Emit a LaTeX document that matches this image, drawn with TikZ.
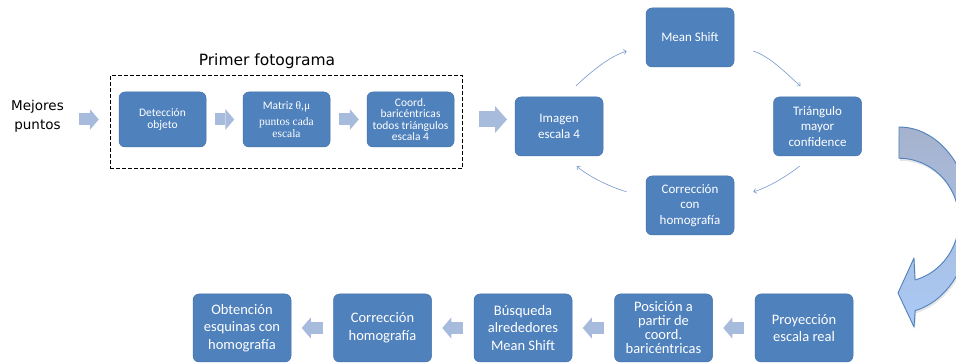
\documentclass[tikz,border=0pt]{standalone}
\usepackage{fontspec}
\setmainfont{Carlito}
\newfontfamily\verdanafont{DejaVu Sans}
\newfontfamily\cambriafont{Liberation Serif}
\usepackage{xcolor}
\usetikzlibrary{arrows.meta,positioning,fit,shadows}

\definecolor{boxblue}{RGB}{79,129,189}
\definecolor{boxline}{RGB}{68,114,170}
\definecolor{blkfill}{RGB}{167,187,220}
\definecolor{cycline}{RGB}{118,152,204}
\definecolor{turntop}{RGB}{166,178,205}
\definecolor{turnbot}{RGB}{170,202,246}

\tikzset{
  stage/.style={rectangle, rounded corners=6pt, fill=boxblue, draw=boxline, line width=0.5pt,
    text=white, align=center, inner sep=2pt},
  topstage/.style={stage, minimum width=87pt, minimum height=55pt, font=\fontsize{11.5}{11.3}\selectfont},
  ringstage/.style={stage, minimum width=88pt, minimum height=59pt, font=\fontsize{13}{15.5}\selectfont},
  lowstage/.style={stage, minimum width=98pt, minimum height=68pt, font=\fontsize{14.5}{17.5}\selectfont},
  blk/.style={draw=blkfill, line width=12pt, -{Triangle[length=9pt,width=21pt,line width=0pt]}},
  bigblk/.style={draw=blkfill, line width=16pt, -{Triangle[length=12pt,width=27pt,line width=0pt]}},
  cyc/.style={draw=cycline, line width=0.6pt, -{Straight Barb[length=2.5pt,width=5pt]}},
  turn/.style={draw=boxblue, line width=0.9pt, line join=round, top color=turntop, bottom color=turnbot,
    drop shadow={opacity=0.2, shadow xshift=1pt, shadow yshift=-2.5pt}},
}

\begin{document}
\begin{tikzpicture}[x=1pt, y=1pt]
\useasboundingbox[fill=white] (0,0) rectangle (956,363);

% primer fotograma
\node[font=\verdanafont\fontsize{13.5}{19}\selectfont, align=center, inner sep=0pt] (mej) at (37.5,246.5) {Mejores\\puntos};
\node[topstage] (det) at (162.5,243.5) {Detección\\objeto};
\node[topstage, right=36.5pt of det] (mat) {Matriz {\cambriafont θ,μ}\\[5pt]{\cambriafont puntos cada}\\{\cambriafont escala}};
\node[topstage, right=36.5pt of mat] (crd) {Coord.\\baricéntricas\\todos triángulos\\escala 4};
\node[draw, dashed, dash pattern=on 3.5pt off 2.5pt, line width=1.2pt, fit=(det)(mat)(crd),
  inner xsep=8.5pt, inner ysep=18.5pt, yshift=-2.5pt] (frame) {};
\node[font=\verdanafont\fontsize{15.5}{18}\selectfont] (title) at (267,302) {Primer fotograma};

\draw[blk, shorten <=15pt, shorten >=20pt] (mej.east |- det.west) -- (det.west);
\draw[blk, shorten <=9pt, shorten >=8.5pt] (det) -- (mat);
\draw[blk, shorten <=8.5pt, shorten >=8pt] (mat) -- (crd);
\draw[bigblk, shorten <=25pt, shorten >=8pt] (crd.east) -- (crd.east -| 515,0);

% ciclo de seguimiento
\node[ringstage] (img) at (559,236.5) {Imagen\\escala 4};
\node[ringstage] (ms) at (690,325.5) {Mean Shift};
\node[ringstage] (tri) at (817.5,236.5) {Triángulo\\mayor\\confidence};
\node[ringstage] (corr) at (690,157.5) {Corrección\\con\\homografía};

\draw[cyc, shorten <=16pt, shorten >=20pt] (img.80) to[out=43, in=197] (ms.190);
\draw[cyc, shorten <=20pt, shorten >=16pt] (ms.-10) to[out=-17, in=138] (tri.100);
\draw[cyc, shorten <=16pt, shorten >=20pt] (tri.-100) to[out=-142, in=17] (corr.10);
\draw[cyc, shorten <=20pt, shorten >=16pt] (corr.170) to[out=163, in=-39] (img.-80);

\draw[turn] (899,236) arc[start angle=90, end angle=-77, x radius=72, y radius=93]
  -- (914,36) -- (898,70) -- (914,105) -- (915,83)
  arc[start angle=-74.5, end angle=90, x radius=60, y radius=62] -- cycle;

% escala real
\node[lowstage] (proj) at (804,35) {Proyección\\escala real};
\node[lowstage, left=42pt of proj, font=\fontsize{14.5}{14}\selectfont] (pos) {Posición a\\partir de\\coord.\\baricéntricas};
\node[lowstage, left=42pt of pos] (busq) {Búsqueda\\alrededores\\Mean Shift};
\node[lowstage, left=42pt of busq] (corh) {Corrección\\homografía};
\node[lowstage, left=42pt of corh] (obt) {Obtención\\esquinas con\\homografía};

\draw[blk, shorten <=10.5pt, shorten >=10.5pt] (proj) -- (pos);
\draw[blk, shorten <=10.5pt, shorten >=10.5pt] (pos) -- (busq);
\draw[blk, shorten <=10.5pt, shorten >=10.5pt] (busq) -- (corh);
\draw[blk, shorten <=10.5pt, shorten >=10.5pt] (corh) -- (obt);
\end{tikzpicture}
\end{document}
